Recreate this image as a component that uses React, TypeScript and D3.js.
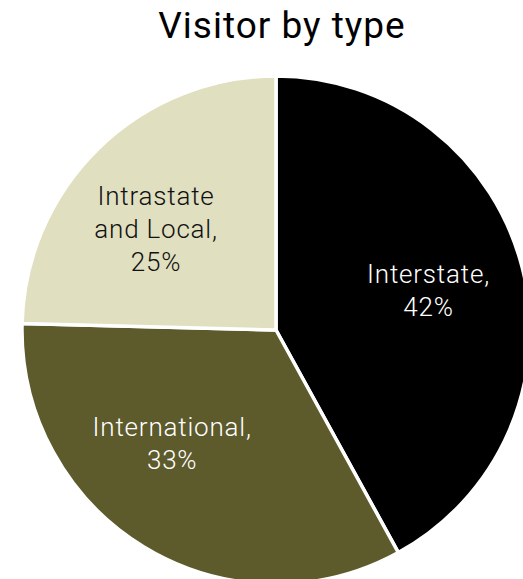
import React, { useEffect, useRef } from 'react';
import * as d3 from 'd3';

const categories = ['Interstate', 'International', 'Intrastate and Local'];
const values = [42.0, 33.4, 24.6];
const labelLines = [
  ['Interstate,', '42%'],
  ['International,', '33%'],
  ['Intrastate', 'and Local,', '25%'],
];
const colors = ['#000000', '#5d5a2c', '#e0dfc0'];
const textColors = ['#ffffff', '#ffffff', '#111111'];

const App: React.FC = () => {
  const svgRef = useRef<SVGSVGElement>(null);

  useEffect(() => {
    if (!svgRef.current) return;
    const svg = d3.select(svgRef.current);
    svg.selectAll('*').remove();

    const width = 523;
    const height = 579;
    const cx = 276;
    const cy = 330;
    const radius = 254;

    svg.append('text')
      .attr('x', 282)
      .attr('y', 38)
      .attr('text-anchor', 'middle')
      .attr('font-family', 'Roboto, sans-serif')
      .attr('font-size', 37)
      .attr('letter-spacing', 1)
      .attr('fill', '#000')
      .text('Visitor by type');

    const pie = d3.pie<number>().sort(null).value(d => d);
    const arcs = pie(values);
    const arc = d3.arc<d3.PieArcDatum<number>>().innerRadius(0).outerRadius(radius);

    const g = svg.append('g').attr('transform', `translate(${cx},${cy})`);

    g.selectAll('path')
      .data(arcs)
      .enter()
      .append('path')
      .attr('d', arc)
      .attr('fill', (d, i) => colors[i])
      .attr('stroke', '#fff')
      .attr('stroke-width', 3.5)
      .attr('stroke-linejoin', 'round');

    // label placement: centroid at a fraction of the radius, nudged like the original
    const labelArc = d3.arc<d3.PieArcDatum<number>>().innerRadius(radius * 0.62).outerRadius(radius * 0.62);
    const nudge = [[0, 0], [-22, -21], [-10, 12]];
    const lineHeight = 33;

    arcs.forEach((d, i) => {
      const [x, y] = labelArc.centroid(d);
      const lines = labelLines[i];
      const top = y + nudge[i][1] - ((lines.length - 1) * lineHeight) / 2 + 9;
      const t = g.append('text')
        .attr('text-anchor', 'middle')
        .attr('font-family', 'Roboto, sans-serif')
        .attr('font-weight', 300)
        .attr('font-size', 26)
        .attr('letter-spacing', 0.8)
        .attr('fill', textColors[i])
        .attr('aria-label', categories[i]);
      lines.forEach((line, j) => {
        t.append('tspan')
          .attr('x', x + nudge[i][0])
          .attr('y', top + j * lineHeight)
          .text(line);
      });
    });

    svg.attr('width', width).attr('height', height);
  }, []);

  return (
    <svg
      ref={svgRef}
      width={523}
      height={579}
      style={{ position: 'absolute', left: 0, top: 0, background: '#fff' }}
    />
  );
};

export default App;
